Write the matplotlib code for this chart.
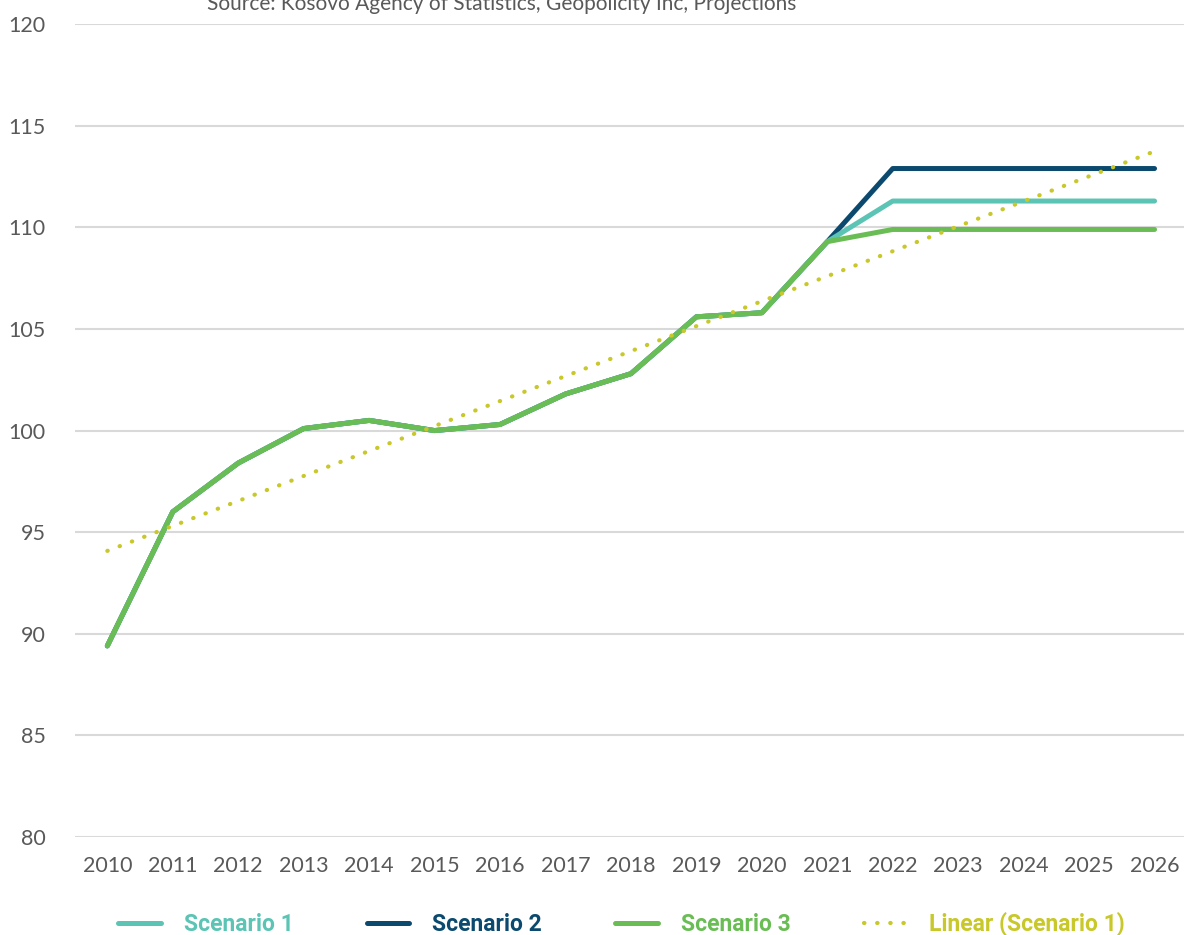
import numpy as np
import matplotlib.pyplot as plt

plt.rcParams['font.family'] = ['Lato', 'DejaVu Sans']

years = list(range(2010, 2027))
scenario1 = [89.4, 96.0, 98.4, 100.1, 100.5, 100.0, 100.3, 101.8, 102.8, 105.6, 105.8, 109.3,
             111.3, 111.3, 111.3, 111.3, 111.3]
scenario2 = [89.4, 96.0, 98.4, 100.1, 100.5, 100.0, 100.3, 101.8, 102.8, 105.6, 105.8, 109.3,
             112.9, 112.9, 112.9, 112.9, 112.9]
scenario3 = [89.4, 96.0, 98.4, 100.1, 100.5, 100.0, 100.3, 101.8, 102.8, 105.6, 105.8, 109.3,
             109.9, 109.9, 109.9, 109.9, 109.9]
yticks = [80, 85, 90, 95, 100, 105, 110, 115, 120]

c1 = '#5BC4B4'
c2 = '#0B4A6E'
c3 = '#6ABD55'
c_lin = '#C8C82A'
grey = '#595959'

# linear trend of scenario 1
coef = np.polyfit(years, scenario1, 1)
trend = np.polyval(coef, years)

fig = plt.figure(figsize=(11.84, 9.35), dpi=100)
ax = fig.add_axes([0.063, 0.105, 0.937, 0.869])

l2, = ax.plot(years, scenario2, color=c2, lw=3.6, solid_capstyle='round', solid_joinstyle='round', label='Scenario 2')
l1, = ax.plot(years, scenario1, color=c1, lw=3.6, solid_capstyle='round', solid_joinstyle='round', label='Scenario 1')
l3, = ax.plot(years, scenario3, color=c3, lw=3.6, solid_capstyle='round', solid_joinstyle='round', label='Scenario 3')
l4, = ax.plot(years, trend, color=c_lin, lw=3, linestyle=(0, (0.1, 3.05)), dash_capstyle='round',
              label='Linear (Scenario 1)')

ax.set_xlim(2009.5, 2026.45)
ax.set_ylim(80, 120)
ax.set_yticks(yticks)
ax.set_xticks(years)
ax.grid(axis='y', color='#d9d9d9', lw=1.5)
ax.set_axisbelow(True)
for s in ax.spines.values():
    s.set_visible(False)
ax.tick_params(length=0, labelsize=15.5, labelcolor=grey)
ax.tick_params(axis='x', pad=14)
ax.tick_params(axis='y', pad=21)

fig.text(0.424, 0.996, 'Source: Kosovo Agency of Statistics, Geopolicity Inc, Projections',
         ha='center', va='center', fontsize=15, color=grey)

leg = fig.legend(handles=[l1, l2, l3, l4], loc='center', bbox_to_anchor=(0.525, 0.012), ncol=4,
                 frameon=False, labelcolor='linecolor', borderpad=0.2,
                 prop={'family': 'Roboto', 'weight': 'bold', 'size': 16.5},
                 handlelength=1.85, columnspacing=3.2, handletextpad=1.0)

fig.savefig('out.png', dpi=100)
